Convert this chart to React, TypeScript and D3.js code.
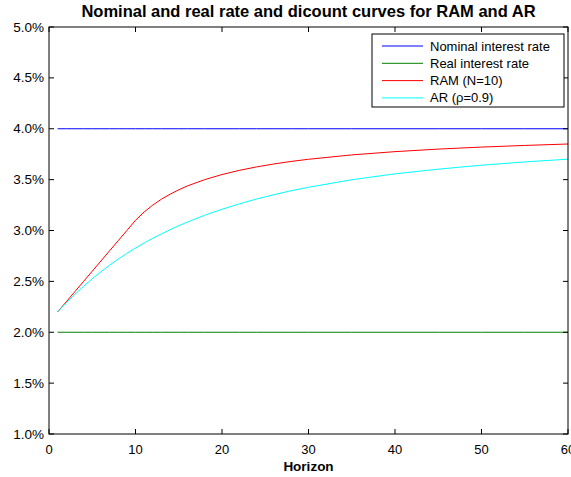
import * as d3 from "d3";

const horizons = [1, 2, 3, 4, 5, 6, 7, 8, 9, 10, 11, 12, 13, 14, 15, 16, 18, 20, 22, 24, 26, 28, 30, 35, 40, 45, 50, 55, 60];
const nominal = horizons.map(() => 4.0);
const real = horizons.map(() => 2.0);
const ram = [2.2, 2.3, 2.4, 2.5, 2.6, 2.7, 2.8, 2.9, 3.0, 3.1, 3.182, 3.25, 3.308, 3.357, 3.4, 3.438, 3.5, 3.55, 3.591, 3.625, 3.654, 3.679, 3.7, 3.743, 3.775, 3.8, 3.82, 3.836, 3.85];
const ar = [2.2, 2.29, 2.374, 2.452, 2.526, 2.594, 2.659, 2.719, 2.775, 2.828, 2.877, 2.924, 2.967, 3.008, 3.047, 3.083, 3.15, 3.209, 3.262, 3.31, 3.352, 3.391, 3.425, 3.499, 3.557, 3.603, 3.642, 3.674, 3.701];

const xTicks = [0, 10, 20, 30, 40, 50, 60];
const yTicks = [1.0, 1.5, 2.0, 2.5, 3.0, 3.5, 4.0, 4.5, 5.0];

const series = [
	{ name: "Nominal interest rate", values: nominal, color: "#0000ff" },
	{ name: "Real interest rate", values: real, color: "#008000" },
	{ name: "RAM (N=10)", values: ram, color: "#ff0000" },
	{ name: "AR (\u03c1=0.9)", values: ar, color: "#00ffff" },
];

function App() {
	const width = 571;
	const height = 477;
	const left = 49;
	const right = 568;
	const top = 27;
	const bottom = 434;
	const font = "'Liberation Sans', Arial, Helvetica, sans-serif";

	const x = d3.scaleLinear().domain([0, 60]).range([left, right]);
	const y = d3.scaleLinear().domain([1, 5]).range([bottom, top]);

	const line = (vals: number[]) =>
		d3
			.line<number>()
			.x((_, i) => x(horizons[i]))
			.y((d) => y(d))(vals) as string;

	const tickLen = 5;
	const legendX = 372;
	const legendY = 34;

	return (
		<svg
			width={width}
			height={height}
			style={{ position: "absolute", left: 0, top: 0, background: "#fff" }}
			fontFamily={font}
		>
			<rect x={0} y={0} width={width} height={height} fill="#fff" />
			<text x={(left + right) / 2} y={17} textAnchor="middle" fontSize={16.5} fontWeight="bold">
				Nominal and real rate and dicount curves for RAM and AR
			</text>
			{series.map((s) => (
				<path key={s.name} d={line(s.values)} fill="none" stroke={s.color} strokeWidth={1} />
			))}
			{xTicks.map((t) => (
				<g key={"x" + t}>
					<line x1={x(t)} x2={x(t)} y1={bottom} y2={bottom - tickLen} stroke="#000" />
					<line x1={x(t)} x2={x(t)} y1={top} y2={top + tickLen} stroke="#000" />
					<text x={x(t)} y={454} textAnchor="middle" fontSize={13}>
						{t}
					</text>
				</g>
			))}
			{yTicks.map((t) => (
				<g key={"y" + t}>
					<line x1={left} x2={left + tickLen} y1={y(t)} y2={y(t)} stroke="#000" />
					<line x1={right} x2={right - tickLen} y1={y(t)} y2={y(t)} stroke="#000" />
					<text x={44} y={y(t) + 4.5} textAnchor="end" fontSize={13.5}>
						{t.toFixed(1) + "%"}
					</text>
				</g>
			))}
			<rect x={left} y={top} width={right - left} height={bottom - top} fill="none" stroke="#000" strokeWidth={1} />
			<text x={(left + right) / 2} y={471} textAnchor="middle" fontSize={13.5} fontWeight="bold">
				Horizon
			</text>
			<rect x={legendX} y={legendY} width={192} height={73} fill="#fff" stroke="#000" />
			{series.map((s, i) => {
				const cy = legendY + 12 + i * 17.3;
				return (
					<g key={"l" + s.name}>
						<line x1={382} x2={423} y1={cy} y2={cy} stroke={s.color} />
						<text x={430} y={cy + 4.5} fontSize={13}>
							{s.name}
						</text>
					</g>
				);
			})}
		</svg>
	);
}

export default App;
